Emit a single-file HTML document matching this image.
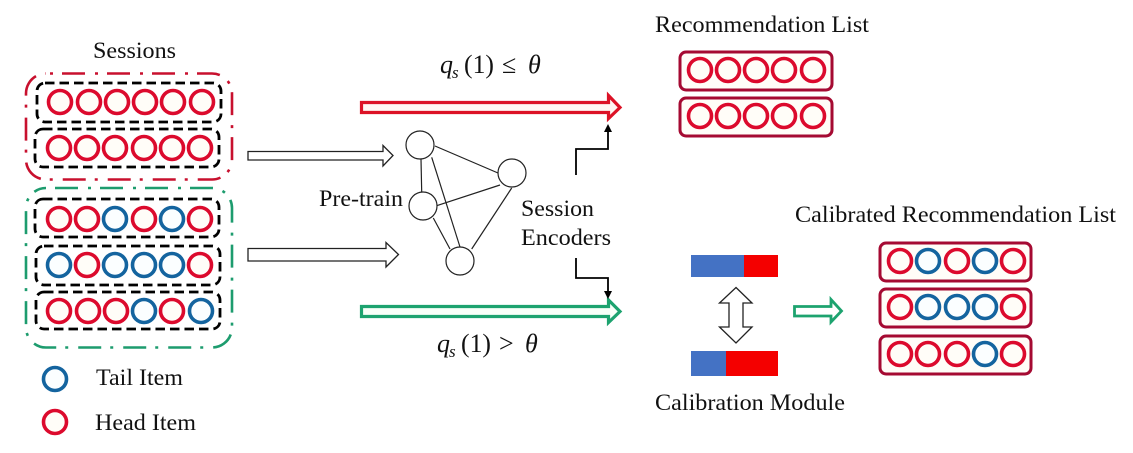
<!DOCTYPE html>
<html><head><meta charset="utf-8"><style>
html,body{margin:0;padding:0;background:#fff;width:1133px;height:453px;overflow:hidden}
svg{display:block}
text{font-family:"Liberation Serif",serif;font-size:23px;fill:#111}
.r circle{fill:#fffdf8;stroke:#dc0a2d;stroke-width:3.6}
.b circle{fill:#fbfeff;stroke:#14649f;stroke-width:3.6}
.d{fill:none;stroke:#000;stroke-width:2.8;stroke-dasharray:9.5 5}
.box{fill:#fffdf8;stroke:#a50a32;stroke-width:3}
.n{fill:#fff;stroke:#222;stroke-width:1.2}
.e{stroke:#222;stroke-width:1.2}
.w{fill:#fff;stroke:#222;stroke-width:1.3}
.m{font-size:26px}
.i{font-style:italic}
</style></head><body>
<svg width="1133" height="453" viewBox="0 0 1133 453" xmlns="http://www.w3.org/2000/svg">
<text x="93" y="58" textLength="83" lengthAdjust="spacingAndGlyphs">Sessions</text>
<rect x="26" y="73.500" width="206" height="106" rx="20" fill="#fff" stroke="#c8102e" stroke-width="2.600" stroke-dasharray="23 10 3 9" stroke-dashoffset="29"/>
<rect x="26" y="188" width="206" height="159.500" rx="20" fill="#fff" stroke="#1d9c6e" stroke-width="2.600" stroke-dasharray="23 10 3 9" stroke-dashoffset="36"/>
<rect class="d" x="37" y="83" width="184" height="39" rx="8"/>
<rect class="d" x="35" y="129" width="184" height="38" rx="8"/>
<rect class="d" x="35" y="199" width="184" height="38" rx="8"/>
<rect class="d" x="36" y="246" width="184" height="39" rx="8"/>
<rect class="d" x="36" y="292" width="184" height="37" rx="8"/>
<g class="r"><circle cx="60" cy="102" r="11.500"/><circle cx="89" cy="102" r="11.500"/><circle cx="117" cy="102" r="11.500"/><circle cx="145" cy="102" r="11.500"/><circle cx="173" cy="102" r="11.500"/><circle cx="202" cy="102" r="11.500"/>
<circle cx="59" cy="148" r="11.500"/><circle cx="87" cy="148" r="11.500"/><circle cx="115" cy="148" r="11.500"/><circle cx="144" cy="148" r="11.500"/><circle cx="172" cy="148" r="11.500"/><circle cx="200" cy="148" r="11.500"/>
<circle cx="59" cy="219" r="11.500"/><circle cx="87" cy="219" r="11.500"/><circle cx="144" cy="219" r="11.500"/><circle cx="200" cy="219" r="11.500"/>
<circle cx="87" cy="265" r="11.500"/><circle cx="200" cy="265" r="11.500"/>
<circle cx="59" cy="311" r="11.500"/><circle cx="88" cy="311" r="11.500"/><circle cx="116" cy="311" r="11.500"/><circle cx="172" cy="311" r="11.500"/>
<circle cx="55" cy="422" r="11.500"/></g>
<g class="b"><circle cx="115" cy="219" r="11.500"/><circle cx="172" cy="219" r="11.500"/>
<circle cx="59" cy="265" r="11.500"/><circle cx="115" cy="265" r="11.500"/><circle cx="144" cy="265" r="11.500"/><circle cx="172" cy="265" r="11.500"/>
<circle cx="144" cy="311" r="11.500"/><circle cx="201" cy="311" r="11.500"/>
<circle cx="55" cy="379" r="11.500"/></g>
<text x="96" y="385" textLength="87" lengthAdjust="spacingAndGlyphs">Tail Item</text>
<text x="95" y="430" textLength="101" lengthAdjust="spacingAndGlyphs">Head Item</text>

<path class="w" d="M248 151.500H383V145.500L393 155.500 383 166V160H248Z"/>
<path class="w" d="M248 248.500H386V242.500L398.500 254.500 386 267V261H248Z"/>
<path d="M361.500 102.500H608.500V95.500L620 107.500 608.500 118.500V112.500H361.500Z" fill="#fff6f3" stroke="#dc1226" stroke-width="3.200"/>
<path d="M361.500 306.500H608.500V300L620 311.500 608.500 322.500V316.500H361.500Z" fill="#f8fff8" stroke="#1da36f" stroke-width="3.200"/>

<g class="e"><line x1="435" y1="146" x2="498" y2="173"/><line x1="421" y1="159" x2="421.700" y2="192"/><line x1="431.700" y1="157.300" x2="460" y2="247"/><line x1="500" y1="185" x2="436.700" y2="205.700"/><line x1="511.700" y1="188" x2="471.700" y2="249"/><line x1="433.300" y1="218" x2="450" y2="249"/></g>
<circle class="n" cx="420" cy="145" r="14"/><circle class="n" cx="512" cy="173" r="14"/><circle class="n" cx="423" cy="206" r="14"/><circle class="n" cx="460" cy="261" r="14"/>
<text x="319" y="206" textLength="84" lengthAdjust="spacingAndGlyphs">Pre-train</text>
<text x="521" y="216" textLength="73" lengthAdjust="spacingAndGlyphs">Session</text>
<text x="521" y="245" textLength="90" lengthAdjust="spacingAndGlyphs">Encoders</text>

<path d="M576 175V149H608V130" fill="none" stroke="#000" stroke-width="1.800"/><path d="M608 124L612 132H604Z" fill="#000"/>
<path d="M576 258V278H608V292" fill="none" stroke="#000" stroke-width="1.800"/><path d="M608 299L604 291H612Z" fill="#000"/>

<text class="m i" x="440" y="73">q</text><text class="i" x="452" y="78" style="font-size:17px">s</text><text class="m" x="464" y="73" textLength="30" lengthAdjust="spacingAndGlyphs">(1)</text><text class="m" x="502" y="73">≤</text><text class="m i" x="528" y="73">θ</text>
<text class="m i" x="437" y="352">q</text><text class="i" x="449" y="357" style="font-size:17px">s</text><text class="m" x="461" y="352" textLength="30" lengthAdjust="spacingAndGlyphs">(1)</text><text class="m" x="499" y="352">&gt;</text><text class="m i" x="525" y="352">θ</text>

<text x="655" y="32" textLength="214" lengthAdjust="spacingAndGlyphs">Recommendation List</text>
<rect class="box" x="680" y="52" width="152" height="38" rx="6"/>
<rect class="box" x="680" y="98" width="152" height="38" rx="6"/>
<g class="r"><circle cx="700" cy="70" r="11.500"/><circle cx="728" cy="70" r="11.500"/><circle cx="756" cy="70" r="11.500"/><circle cx="784" cy="70" r="11.500"/><circle cx="813" cy="70" r="11.500"/>
<circle cx="700" cy="116" r="11.500"/><circle cx="728" cy="116" r="11.500"/><circle cx="756" cy="116" r="11.500"/><circle cx="784" cy="116" r="11.500"/><circle cx="813" cy="116" r="11.500"/></g>

<rect x="691" y="255" width="53" height="22" fill="#4472c4"/><rect x="744" y="255" width="34" height="22" fill="#f40000"/>
<rect x="691" y="351" width="35" height="25" fill="#4472c4"/><rect x="726" y="351" width="52" height="25" fill="#f40000"/>
<path class="w" d="M736 287.500L752 303H743V327H752L736 343 719.500 327H729V303H719.500Z"/>
<path d="M794.500 306.500H831V299.500L841.500 311 831 322V316H794.500Z" fill="#fff" stroke="#1da36f" stroke-width="2.800"/>
<text x="655" y="410" textLength="190" lengthAdjust="spacingAndGlyphs">Calibration Module</text>

<text x="795" y="222" textLength="321" lengthAdjust="spacingAndGlyphs">Calibrated Recommendation List</text>
<rect class="box" x="880" y="243" width="151" height="38" rx="6"/>
<rect class="box" x="880" y="289" width="151" height="38" rx="6"/>
<rect class="box" x="880" y="336" width="151" height="38" rx="6"/>
<g class="r"><circle cx="900" cy="261" r="11.500"/><circle cx="957" cy="261" r="11.500"/><circle cx="1013" cy="261" r="11.500"/>
<circle cx="900" cy="307" r="11.500"/><circle cx="1013" cy="307" r="11.500"/>
<circle cx="900" cy="354" r="11.500"/><circle cx="928" cy="354" r="11.500"/><circle cx="957" cy="354" r="11.500"/><circle cx="1013" cy="354" r="11.500"/></g>
<g class="b"><circle cx="928" cy="261" r="11.500"/><circle cx="985" cy="261" r="11.500"/>
<circle cx="928" cy="307" r="11.500"/><circle cx="957" cy="307" r="11.500"/><circle cx="985" cy="307" r="11.500"/>
<circle cx="985" cy="354" r="11.500"/></g>
</svg>
</body></html>
